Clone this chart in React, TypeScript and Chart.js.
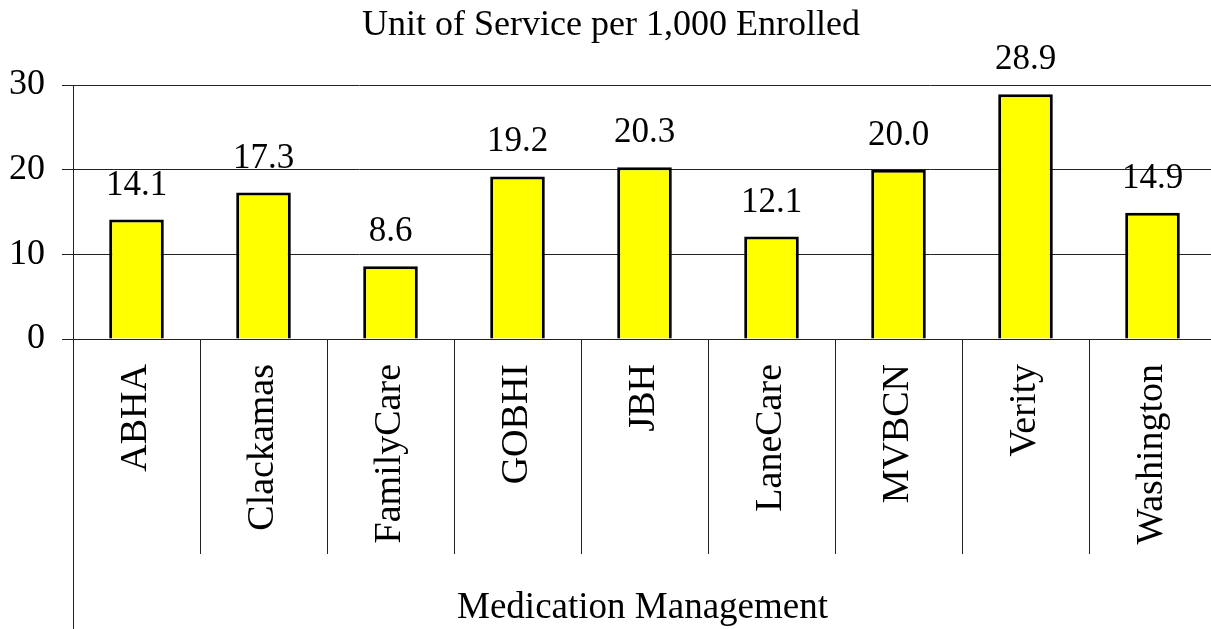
import React, { useEffect, useRef } from "react";
import { Chart, registerables } from "chart.js";

Chart.register(...registerables);

const categories = [
  "ABHA",
  "Clackamas",
  "FamilyCare",
  "GOBHI",
  "JBH",
  "LaneCare",
  "MVBCN",
  "Verity",
  "Washington",
];
const values = [14.1, 17.3, 8.6, 19.2, 20.3, 12.1, 20.0, 28.9, 14.9];
const yTicks = [0, 10, 20, 30];
const chartTitle = "Unit of Service per 1,000 Enrolled";
const groupLabel = "Medication Management";

const FONT = '"Liberation Serif", "Times New Roman", serif';
const LINE = "#222";

const overlayPlugin = {
  id: "overlay",
  afterDatasetsDraw(chart: any) {
    const ctx = chart.ctx;
    const meta = chart.getDatasetMeta(0);
    const { left, right, bottom } = chart.chartArea;
    ctx.save();
    ctx.fillStyle = "#000";
    ctx.textAlign = "center";
    ctx.textBaseline = "alphabetic";
    ctx.font = `35px ${FONT}`;
    meta.data.forEach((bar: any, i: number) => {
      ctx.fillText(values[i].toFixed(1), bar.x, bar.y - 25);
    });
    ctx.font = `36px ${FONT}`;
    ctx.fillText(chartTitle, 611, 35);
    // extension of the vertical axis line below the category band
    ctx.strokeStyle = LINE;
    ctx.lineWidth = 1;
    const x = Math.round(left) + 0.5;
    ctx.beginPath();
    ctx.moveTo(x, bottom);
    ctx.lineTo(x, chart.height);
    ctx.stroke();
    ctx.font = `37px ${FONT}`;
    ctx.fillText(groupLabel, (left + right) / 2 - 2, 618);
    ctx.restore();
  },
};

export default function App() {
  const canvasRef = useRef<HTMLCanvasElement | null>(null);

  useEffect(() => {
    const canvas = canvasRef.current;
    if (!canvas) return;
    const chart = new Chart(canvas, {
      type: "bar",
      data: {
        labels: categories,
        datasets: [
          {
            data: values,
            backgroundColor: "#FFFF00",
            borderColor: "#000",
            borderWidth: 3,
            barPercentage: 0.43,
            categoryPercentage: 1,
          },
        ],
      },
      options: {
        responsive: false,
        animation: false,
        devicePixelRatio: 1,
        layout: { padding: { top: 85, left: 0, right: 0, bottom: 0 } },
        plugins: {
          legend: { display: false },
          tooltip: { enabled: false },
          title: { display: false },
        },
        scales: {
          x: {
            type: "category",
            offset: true,
            grid: {
              display: true,
              offset: true,
              drawOnChartArea: false,
              drawTicks: true,
              tickLength: 215,
              color: LINE,
              lineWidth: 1,
            },
            border: { display: true, color: LINE, width: 1 },
            ticks: {
              autoSkip: false,
              minRotation: 90,
              maxRotation: 90,
              padding: -190,
              color: "#000",
              font: { family: FONT, size: 38 },
            },
            afterFit: (scale: any) => {
              scale.height = 290;
            },
          },
          y: {
            min: 0,
            max: 30,
            afterBuildTicks: (scale: any) => {
              scale.ticks = yTicks.map((v) => ({ value: v }));
            },
            grid: {
              display: true,
              color: LINE,
              lineWidth: 1,
              drawTicks: true,
              tickLength: 11,
            },
            border: { display: true, color: LINE, width: 1 },
            ticks: {
              padding: 17,
              color: "#000",
              font: { family: FONT, size: 36 },
            },
            afterFit: (scale: any) => {
              scale.width = 73;
            },
          },
        },
      },
      plugins: [overlayPlugin],
    });
    return () => chart.destroy();
  }, []);

  return (
    <div
      style={{
        position: "fixed",
        left: 0,
        top: 0,
        width: 1211,
        height: 629,
        overflow: "hidden",
        background: "#fff",
      }}
    >
      <canvas
        ref={canvasRef}
        width={1216}
        height={629}
        style={{ width: 1216, height: 629, display: "block" }}
      />
    </div>
  );
}
